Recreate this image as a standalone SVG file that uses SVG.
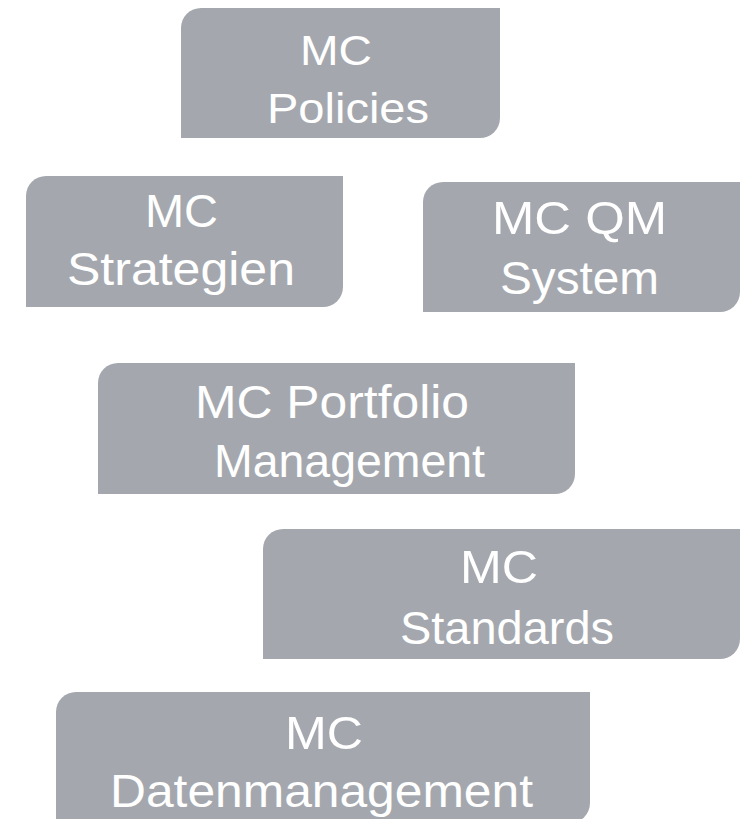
<svg xmlns="http://www.w3.org/2000/svg" width="749" height="819" viewBox="0 0 749 819">
<style>
.box{fill:#a4a8ae}
.t{font-family:"Liberation Sans",Arial,sans-serif;font-size:46px;fill:#ffffff}
.s{font-size:43px}
</style>
<rect width="749" height="819" fill="#ffffff"/>
<g id="connectors"></g>
<g id="node-policies">
<path class="box" d="M201,8 H500 V118 A20,20 0 0 1 480,138 H181 V28 A20,20 0 0 1 201,8 Z"/>
<text class="t s" x="300" y="65" textLength="72" lengthAdjust="spacingAndGlyphs">MC</text>
<text class="t s" x="267" y="123" textLength="162" lengthAdjust="spacingAndGlyphs">Policies</text>
</g>
<g id="node-strategien">
<path class="box" d="M46,176 H343 V287 A20,20 0 0 1 323,307 H26 V196 A20,20 0 0 1 46,176 Z"/>
<text class="t" x="145" y="227" textLength="73" lengthAdjust="spacingAndGlyphs">MC</text>
<text class="t" x="67" y="285" textLength="228" lengthAdjust="spacingAndGlyphs">Strategien</text>
</g>
<g id="node-qm">
<path class="box" d="M443,182 H740 V292 A20,20 0 0 1 720,312 H423 V202 A20,20 0 0 1 443,182 Z"/>
<text class="t" x="492" y="234" textLength="175" lengthAdjust="spacingAndGlyphs">MC QM</text>
<text class="t" x="500" y="294" textLength="159" lengthAdjust="spacingAndGlyphs">System</text>
</g>
<g id="node-portfolio">
<path class="box" d="M118,363 H575 V474 A20,20 0 0 1 555,494 H98 V383 A20,20 0 0 1 118,363 Z"/>
<text class="t" x="195" y="418" textLength="274" lengthAdjust="spacingAndGlyphs">MC Portfolio</text>
<text class="t" x="214" y="477" textLength="271" lengthAdjust="spacingAndGlyphs">Management</text>
</g>
<g id="node-standards">
<path class="box" d="M283,529 H740 V639 A20,20 0 0 1 720,659 H263 V549 A20,20 0 0 1 283,529 Z"/>
<text class="t" x="460" y="583" textLength="78" lengthAdjust="spacingAndGlyphs">MC</text>
<text class="t" x="400" y="644" textLength="214" lengthAdjust="spacingAndGlyphs">Standards</text>
</g>
<g id="node-datenmanagement">
<path class="box" d="M76,692 H590 V803 A20,20 0 0 1 570,823 H56 V712 A20,20 0 0 1 76,692 Z"/>
<text class="t" x="285" y="749" textLength="78" lengthAdjust="spacingAndGlyphs">MC</text>
<text class="t" x="110" y="807" textLength="423" lengthAdjust="spacingAndGlyphs">Datenmanagement</text>
</g>
</svg>
